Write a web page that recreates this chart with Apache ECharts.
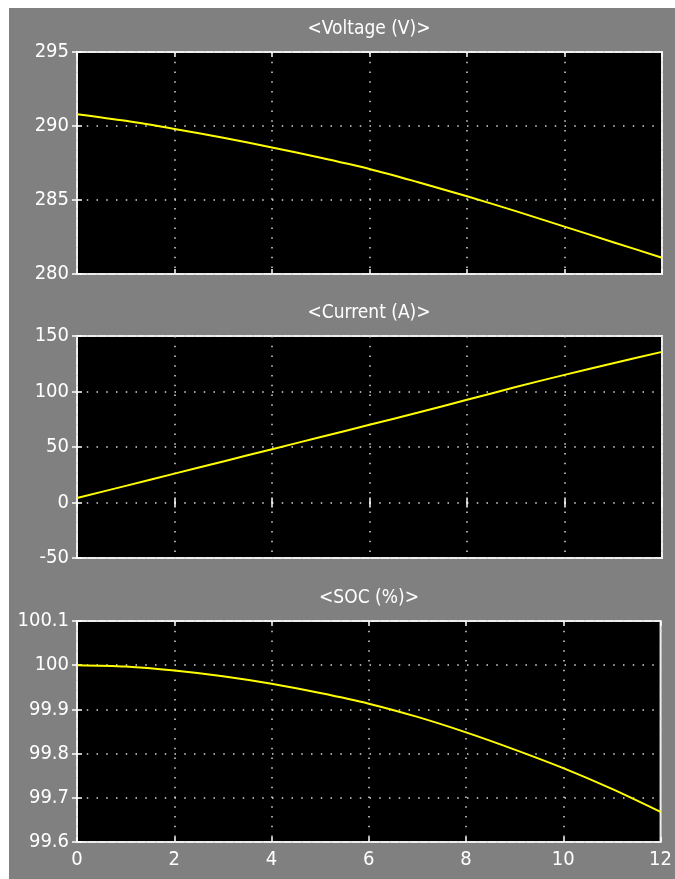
<!DOCTYPE html>
<html>
<head>
<meta charset="utf-8">
<title>Battery scope</title>
<script src="https://cdn.jsdelivr.net/npm/echarts@6/dist/echarts.min.js"></script>
<style>
body{margin:0;background:#fff;}
#charts{position:absolute;left:9px;top:8px;width:666px;height:871px;background:#808080;}
</style>
</head>
<body>
<div id="charts"></div>
<script>
// time (s)
var timeData = [0,1,2,3,4,5,6,7,8,9,10,11,12];
var voltageData = [290.8,290.35,289.8,289.2,288.55,287.85,287.1,286.2,285.25,284.25,283.2,282.15,281.1];
var currentData = [4,15,26,37,48,59,70,81,92.5,104,115,125.5,135.7];
var socData = [100.0,99.997,99.988,99.975,99.958,99.937,99.913,99.883,99.848,99.809,99.767,99.72,99.668];

var panelTitles = ['<Voltage (V)>','<Current (A)>','<SOC (%)>'];
var yMin = [280,-50,99.6];
var yMax = [295,150,100.1];
var yStep = [5,50,0.1];
var xTicks = [0,12,2];

var charts,option;
var fontName = '"Liberation Sans Narrow", "DejaVu Sans Condensed", "Arial Narrow", sans-serif';

function toPairs(vals){
	var arr = [];
	for(var i=0;i<timeData.length;i++){
		arr.push([timeData[i], vals[i]]);
	}
	return arr;
}

function showChart(){
	charts = echarts.init(document.getElementById("charts"));
	var gridTop = [44,328,613];
	var gridH = [222,222,221];
	var seriesVals = [voltageData,currentData,socData];
	var grids=[],xAxes=[],yAxes=[],titles=[],series=[];
	var tick = {show:true,inside:true,length:5,lineStyle:{color:'#fff',width:1.5}};
	var dots = {show:true,lineStyle:{color:'#d8d8d8',width:1.5,type:[1.5,8.25]}};
	for(var i=0;i<3;i++){
		grids.push({
			left:68, width:585, top:gridTop[i], height:gridH[i],
			show:true, backgroundColor:'#000', borderColor:'#eeeeee', borderWidth:2
		});
		titles.push({
			text:panelTitles[i], left:360, top:gridTop[i]-32, textAlign:'center', padding:0,
			textStyle:{color:'#fff',fontSize:19,fontWeight:'normal',fontFamily:fontName}
		});
		//底部x轴
		xAxes.push({
			type:'value', gridIndex:i, min:xTicks[0], max:xTicks[1], interval:xTicks[2],
			axisLine:{show:false}, axisTick:tick, splitLine:dots,
			axisLabel:{show:i==2, color:'#fff', fontSize:20, margin:8, fontFamily:fontName}
		});
		//顶部x轴，只画刻度
		xAxes.push({
			type:'value', gridIndex:i, position:'top', min:xTicks[0], max:xTicks[1], interval:xTicks[2],
			axisLine:{show:false}, axisTick:tick, splitLine:{show:false}, axisLabel:{show:false}
		});
		yAxes.push({
			type:'value', gridIndex:i, min:yMin[i], max:yMax[i], interval:yStep[i],
			axisLine:{show:false}, axisTick:tick, splitLine:dots,
			axisLabel:{color:'#fff', fontSize:20, margin:8, fontFamily:fontName,
				formatter:function(v){ return String(+v.toFixed(1)); }}
		});
		yAxes.push({
			type:'value', gridIndex:i, position:'right', min:yMin[i], max:yMax[i], interval:yStep[i],
			axisLine:{show:false}, axisTick:tick, splitLine:{show:false}, axisLabel:{show:false}
		});
		series.push({
			type:'line', xAxisIndex:i*2, yAxisIndex:i*2, data:toPairs(seriesVals[i]),
			showSymbol:false, smooth:0.3, lineStyle:{color:'#ffff00',width:2}
		});
	}
	option = {
		animation:false,
		title:titles,
		grid:grids,
		xAxis:xAxes,
		yAxis:yAxes,
		series:series
	};
	charts.setOption(option);
}

showChart();
</script>
</body>
</html>
